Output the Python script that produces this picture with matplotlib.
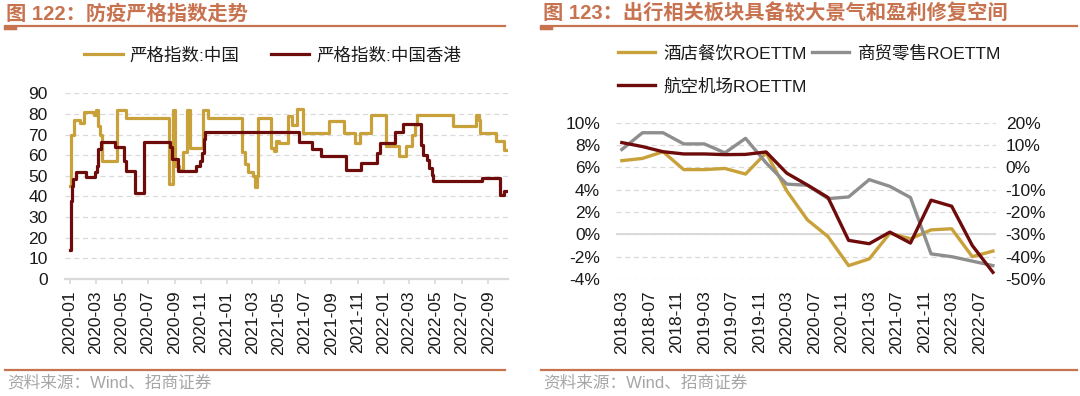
import datetime as dt
import matplotlib
matplotlib.use("Agg")
import matplotlib.pyplot as plt
import matplotlib.dates as mdates
from matplotlib.lines import Line2D

plt.rcParams["font.family"] = ["Liberation Sans", "Noto Sans CJK SC", "DejaVu Sans"]
plt.rcParams["axes.unicode_minus"] = False

# 图122: stringency index, change points of the step series
cn_dates = ["2020-01-02", "2020-01-05", "2020-01-12", "2020-01-24", "2020-02-04", "2020-02-26",
            "2020-03-02", "2020-03-07", "2020-03-11", "2020-03-15", "2020-03-17", "2020-04-20",
            "2020-05-10", "2020-08-18", "2020-08-28", "2020-09-02", "2020-09-11", "2020-09-21",
            "2020-10-01", "2020-10-06", "2020-11-06", "2020-11-18", "2021-02-04", "2021-02-11",
            "2021-02-20", "2021-03-02", "2021-03-08", "2021-03-12", "2021-03-15", "2021-04-13",
            "2021-04-21", "2021-04-26", "2021-05-03", "2021-05-22", "2021-05-24", "2021-06-01",
            "2021-06-12", "2021-06-26", "2021-08-27", "2021-09-30", "2021-10-25", "2021-11-06",
            "2021-12-02", "2022-01-06", "2022-02-06", "2022-02-21", "2022-03-08", "2022-03-14",
            "2022-03-20", "2022-06-10", "2022-08-04", "2022-08-10", "2022-08-14", "2022-09-19",
            "2022-10-07"]
cn_values = [45, 70, 77.3, 75.7, 81, 79.4,
             82, 74, 70, 65, 57, 82,
             78, 46, 82, 55, 53, 61.5,
             82, 63.5, 82, 78, 61.5, 55.8,
             51.7, 50, 44.4, 50, 78, 63.4,
             61.8, 66.7, 65.9, 70.7, 78.8, 74.8,
             82.4, 70.7, 76.4, 70.7, 65.9, 70.7,
             79.6, 64.6, 59.4, 64.6, 70, 74.8,
             79.6, 74.3, 79.6, 77, 70.7, 66.7,
             62.6]
hk_dates = ["2020-01-02", "2020-01-03", "2020-01-04", "2020-01-06", "2020-01-08", "2020-01-15",
            "2020-02-09", "2020-02-29", "2020-03-05", "2020-03-07", "2020-03-13", "2020-04-16",
            "2020-05-07", "2020-05-12", "2020-05-31", "2020-06-23", "2020-08-22", "2020-08-27",
            "2020-09-08", "2020-10-21", "2020-10-31", "2020-11-05", "2020-11-08", "2020-11-11",
            "2021-06-17", "2021-07-19", "2021-08-09", "2021-10-05", "2021-11-08", "2021-12-16",
            "2021-12-24", "2022-01-27", "2022-02-15", "2022-03-28", "2022-04-03", "2022-04-11",
            "2022-04-17", "2022-04-23", "2022-04-26", "2022-08-18", "2022-09-28", "2022-10-07"]
hk_values = [14, 25, 38, 45, 48.5, 52,
             49.3, 52, 55, 63, 66.4, 63.8,
             57.4, 52.5, 41.6, 66.4, 63.8, 58,
             52.3, 55, 57.4, 61, 68, 71.2,
             66.2, 63, 59.4, 52.6, 56.1, 61,
             65.9, 71.2, 75.1, 65, 60.2, 57.8,
             53.7, 50.5, 47.6, 48.9, 40.5, 42.5]
index_last_day = "2022-10-13"
index_ticks = ["2020-01", "2020-03", "2020-05", "2020-07", "2020-09", "2020-11",
               "2021-01", "2021-03", "2021-05", "2021-07", "2021-09", "2021-11",
               "2022-01", "2022-03", "2022-05", "2022-07", "2022-09"]

# 图123: quarterly ROE TTM (%)
roe_quarters = ["2018-03", "2018-06", "2018-09", "2018-12", "2019-03", "2019-06", "2019-09",
                "2019-12", "2020-03", "2020-06", "2020-09", "2020-12", "2021-03", "2021-06",
                "2021-09", "2021-12", "2022-03", "2022-06", "2022-09"]
hotel_roe = [6.6, 6.8, 7.4, 5.8, 5.8, 5.9, 5.4, 7.3, 3.9, 1.3, -0.2, -2.8, -2.2, 0.1, -0.4,
             0.4, 0.5, -2.0, -1.5]
retail_roe = [7.6, 9.1, 9.1, 8.1, 8.1, 7.3, 8.6, 6.4, 4.5, 4.4, 3.2, 3.35, 4.9, 4.3, 3.3,
              -1.75, -2.0, -2.4, -2.8]
airline_roe = [11.1, 9.3, 7.0, 6.0, 6.0, 5.7, 5.8, 6.9, -2.6, -7.9, -13.5, -32.7, -34.2,
               -29.0, -33.9, -14.7, -17.4, -35.0, -47.0]
roe_ticks = ["2018-03", "2018-07", "2018-11", "2019-03", "2019-07", "2019-11", "2020-03",
             "2020-07", "2020-11", "2021-03", "2021-07", "2021-11", "2022-03", "2022-07"]

W, H = 1080, 396
GOLD = "#C9A13B"
MAROON = "#6E0B0B"
GREY = "#8E8E8E"
ACCENT = "#C8734F"
GRID = "#D9D9D9"
TXT = "#1A1A1A"


def fx(px):
    return px / W


def fy(py):
    return 1 - py / H


def to_date(s):
    return dt.datetime.strptime(s, "%Y-%m-%d")


def month_no(s):
    y, m = s.split("-")
    return (int(y) - 2018) * 12 + int(m) - 3


fig = plt.figure(figsize=(W / 100, H / 100), dpi=100)

# ---------- left chart ----------
ax1 = fig.add_axes([fx(65), 1 - 279 / H, fx(507.5 - 65), (279 - 93.3) / H])
cn_x = [to_date(d) for d in cn_dates] + [to_date(index_last_day)]
hk_x = [to_date(d) for d in hk_dates] + [to_date(index_last_day)]
l_cn, = ax1.step(cn_x, cn_values + cn_values[-1:], where="post", color=GOLD, lw=2.3,
                 label="严格指数:中国")
l_hk, = ax1.step(hk_x, hk_values + hk_values[-1:], where="post", color=MAROON, lw=2.3,
                 label="严格指数:中国香港")
ax1.set_xlim(dt.datetime(2019, 12, 21), dt.datetime(2022, 10, 16))
ax1.set_ylim(0, 90)
ax1.set_yticks(range(0, 91, 10))
ax1.set_xticks([dt.datetime.strptime(t, "%Y-%m") for t in index_ticks])
ax1.xaxis.set_major_formatter(mdates.DateFormatter("%Y-%m"))
ax1.grid(axis="y", color=GRID, lw=0.9, linestyle=(0, (4, 3)))
ax1.set_axisbelow(True)
for s in ["left", "right", "top"]:
    ax1.spines[s].set_visible(False)
ax1.spines["bottom"].set_color(GRID)
ax1.spines["bottom"].set_linewidth(1.6)
ax1.tick_params(axis="y", length=0, pad=12.5, labelsize=12.5, labelcolor=TXT)
ax1.tick_params(axis="x", length=3.5, width=1.2, color=GRID, pad=5, labelsize=12.5,
                labelcolor=TXT, labelrotation=90)

fig.legend(handles=[l_cn, l_hk], loc="center left", bbox_to_anchor=(fx(84), fy(55)),
           ncol=2, frameon=False, fontsize=12.6, handlelength=2.2, handletextpad=0.4,
           columnspacing=1.8, borderpad=0, borderaxespad=0, labelcolor=TXT)

# ---------- right chart ----------
ax2 = fig.add_axes([fx(616), 1 - 279 / H, fx(996 - 616), (279 - 122.7) / H])
qx = [month_no(q) for q in roe_quarters]
l_hotel, = ax2.plot(qx, hotel_roe, color=GOLD, lw=2.4, label="酒店餐饮ROETTM")
l_retail, = ax2.plot(qx, retail_roe, color=GREY, lw=2.4, label="商贸零售ROETTM")
ax2.set_xlim(-0.85, 54.45)
ax2.set_ylim(-4, 10)
ax2.set_yticks(range(-4, 11, 2))
ax2.yaxis.set_major_formatter(lambda v, p: f"{v:.0f}%")
ax2.set_xticks([month_no(t) for t in roe_ticks])
ax2.set_xticklabels(roe_ticks)
ax2.grid(axis="y", color=GRID, lw=0.9, linestyle=(0, (4, 3)))
ax2.axhline(0, color=GRID, lw=1.4, zorder=1)
ax2.set_axisbelow(True)
for s in ax2.spines.values():
    s.set_visible(False)
ax2.tick_params(axis="y", length=0, pad=11.5, labelsize=12.5, labelcolor=TXT)
ax2.tick_params(axis="x", length=0, pad=8, labelsize=12.5, labelcolor=TXT, labelrotation=90)

ax3 = ax2.twinx()
l_air, = ax3.plot(qx, airline_roe, color=MAROON, lw=2.4, label="航空机场ROETTM")
ax3.set_ylim(-50, 20)
ax3.set_yticks(range(-50, 21, 10))
ax3.yaxis.set_major_formatter(lambda v, p: f"{v:.0f}%")
for s in ax3.spines.values():
    s.set_visible(False)
ax3.tick_params(axis="y", length=0, pad=7, labelsize=12.5, labelcolor=TXT)

fig.legend(handles=[l_hotel, l_air, l_retail], loc="upper left",
           bbox_to_anchor=(fx(618), fy(45)), ncol=2, frameon=False, fontsize=12.6,
           handlelength=2.1, handletextpad=0.5, columnspacing=0.3, labelspacing=0.95,
           borderpad=0, borderaxespad=0, labelcolor=TXT)

# ---------- titles, rules, source ----------
fig.text(fx(6), fy(14), "图 122：防疫严格指数走势", fontsize=14.6, fontweight="bold",
         color=ACCENT, va="center", ha="left")
fig.text(fx(543), fy(14), "图 123：出行相关板块具备较大景气和盈利修复空间", fontsize=14.6,
         fontweight="bold", color=ACCENT, va="center", ha="left")
for x0, x1 in [(5, 505), (541, 1077)]:
    for yy in (26, 370):
        fig.add_artist(Line2D([fx(x0), fx(x1)], [fy(yy), fy(yy)], color=ACCENT, lw=1.6,
                              transform=fig.transFigure))
    fig.add_artist(Line2D([fx(x0), fx(x0 + 10)], [fy(27.5), fy(27.5)], color=ACCENT, lw=2.5,
                          transform=fig.transFigure))
    fig.text(fx(x0 + 2), fy(383), "资料来源：Wind、招商证券", fontsize=12, color="#A6A6A6",
             va="center", ha="left")

fig.savefig("out.png", dpi=100)
